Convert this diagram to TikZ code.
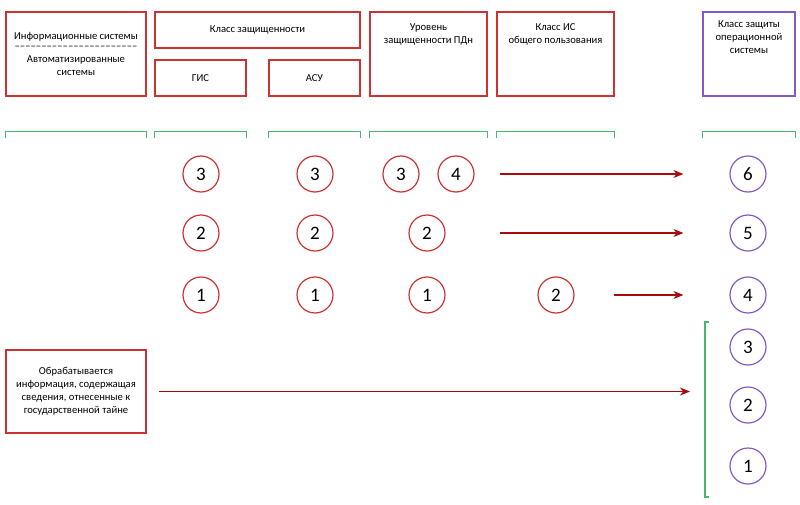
\documentclass[tikz,border=0pt]{standalone}
\usepackage{fontspec}
\setmainfont{Carlito}
\usetikzlibrary{calc,arrows.meta}
\definecolor{boxred}{RGB}{204,50,50}
\definecolor{arrred}{RGB}{170,10,10}
\definecolor{brkgreen}{RGB}{70,185,110}
\definecolor{ospurple}{RGB}{130,90,200}
\tikzset{
  cell/.style={draw=boxred,line width=1.3pt,align=center,inner sep=0pt,
    font=\fontsize{10.6}{13}\selectfont},
  toplbl/.style={anchor=north,align=center,yshift=-9pt,
    font=\fontsize{10.6}{13}\selectfont},
  circ/.style={circle,draw=boxred,line width=1.2pt,minimum size=36pt,inner sep=0pt,
    font=\fontsize{19}{19}\selectfont},
  oscirc/.style={circ,draw=ospurple},
  brk/.style={draw=brkgreen,line width=1.3pt},
  arr/.style={->,arrred,line width=1.2pt},
}

\begin{document}
\begin{tikzpicture}[
    x=1pt,y=-1pt,
    >={Stealth[length=10pt,width=8pt]}
    ]
  \useasboundingbox (0,0) rectangle (800,505);
  % header boxes
  \node[cell,minimum width=140,minimum height=84] (ais) at (76,54)
    {Информационные системы\\[-3pt]
     \makebox[123pt]{\xleaders\hbox{\textendash}\hfill}\\
     Автоматизированные\\системы};
  \node[cell,minimum width=205,minimum height=36] (kz) at (257.5,30) {Класс защищенности};
  \node[cell,minimum width=91,minimum height=36] (gis) at (200.5,78) {ГИС};
  \node[cell,minimum width=91,minimum height=36] (asu) at (314.5,78) {АСУ};
  \node[cell,minimum width=117,minimum height=84,
    label={[toplbl]north:Уровень\\защищенности ПДн}] (pdn) at (428.5,54) {};
  \node[cell,minimum width=117,minimum height=84,
    label={[toplbl]north:Класс ИС\\общего пользования}] (iso) at (555.5,54) {};
  \node[cell,draw=ospurple,minimum width=92,minimum height=84,
    label={[toplbl,yshift=3pt]north:Класс защиты\\операционной\\системы}] (oscl) at (749,54) {};
  % green brackets
  \foreach \b in {ais,gis,asu,pdn,iso,oscl}
    \draw[brk] ($(\b.south west)+(0,41)$) -- ++(0,-6) -| ($(\b.south east)+(0,41)$);
  % classes
  \node[circ] (gis3) at (201,174) {3};
  \node[circ] (gis2) at (201,233) {2};
  \node[circ] (gis1) at (201,295) {1};
  \node[circ] (asu3) at (315,174) {3};
  \node[circ] (asu2) at (315,233) {2};
  \node[circ] (asu1) at (315,295) {1};
  \node[circ] (pdn3) at (401,174) {3};
  \node[circ] (pdn4) at (456,174) {4};
  \node[circ] (pdn2) at (427,233) {2};
  \node[circ] (pdn1) at (427,295) {1};
  \node[circ] (iso2) at (556,295) {2};
  \node[oscirc] (os6) at (748,174) {6};
  \node[oscirc] (os5) at (748,233) {5};
  \node[oscirc] (os4) at (748,295) {4};
  \node[oscirc] (os3) at (748,347) {3};
  \node[oscirc] (os2) at (748,405) {2};
  \node[oscirc] (os1) at (748,466) {1};
  % state secret
  \node[cell,minimum width=140,minimum height=83] (secret) at (76,391.5)
    {Обрабатывается\\информация, содержащая\\сведения, отнесенные к\\государственной тайне};
  \coordinate (brt) at (705,322);
  \coordinate (brb) at (705,497);
  \draw[brk] ($(brt)+(4,0)$) -- (brt) -- (brb) -- ++(4,0);
  % arrows
  \draw[arr,shorten <=25pt,shorten >=46pt] (pdn4) -- (os6);
  \draw[arr,shorten <=54pt,shorten >=46pt] (pdn2) -- (os5);
  \draw[arr,shorten <=39pt,shorten >=46pt] (iso2) -- (os4);
  \draw[arr,shorten <=12pt,shorten >=15pt] (secret.east) -- (secret.east -| brt);
\end{tikzpicture}
\end{document}
